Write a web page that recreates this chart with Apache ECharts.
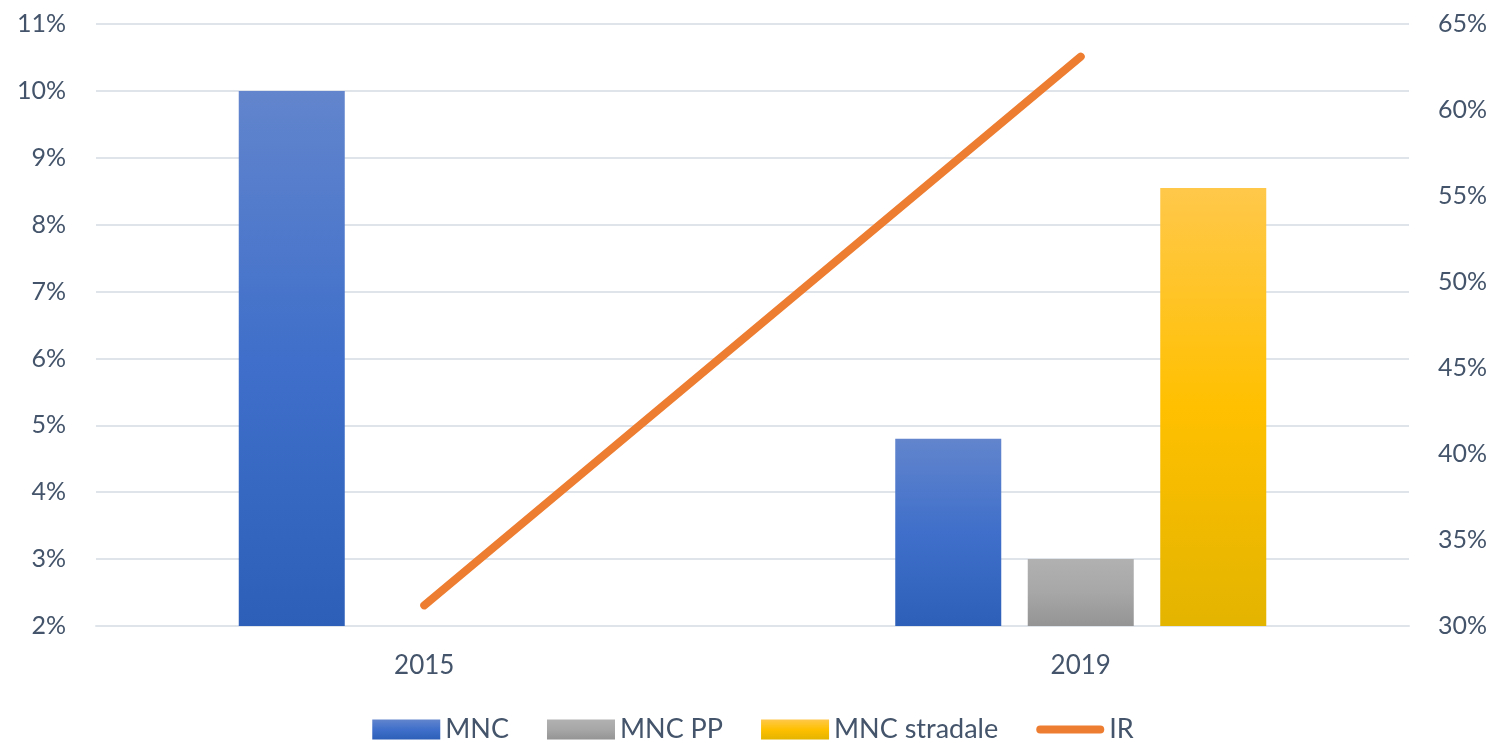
<!DOCTYPE html>
<html>
<head>
<meta charset="utf-8">
<script src="https://cdn.jsdelivr.net/npm/echarts@6/dist/echarts.min.js"></script>
<style>
    html, body { margin: 0; padding: 0; background: #fff; }
    #chart { width: 1506px; height: 743px; }
</style>
</head>
<body>
<div id="chart"></div>
<script>
var categories = ['2015', '2019'];
var mnc = [10.0, 4.8];
var mncPP = [null, 3.0];
var mncStradale = [null, 8.55];
var ir = [31.2, 63.1];

var textColor = '#44546a';
var fontFamily = 'Lato, "Open Sans", sans-serif';

function grad(top, mid, bottom) {
    return new echarts.graphic.LinearGradient(0, 0, 0, 1, [
        { offset: 0, color: top },
        { offset: 0.5, color: mid },
        { offset: 1, color: bottom }
    ]);
}

var chart = echarts.init(document.getElementById('chart'));
chart.setOption({
    animation: false,
    textStyle: { fontFamily: fontFamily },
    grid: { left: 96, right: 97, top: 24, bottom: 117, containLabel: false },
    legend: {
        bottom: -5,
        left: 'center',
        itemWidth: 68,
        itemHeight: 20,
        itemGap: 38,
        textStyle: { color: textColor, fontSize: 27, fontFamily: fontFamily },
        data: [
            { name: 'MNC', icon: 'rect' },
            { name: 'MNC PP', icon: 'rect' },
            { name: 'MNC stradale', icon: 'rect' },
            {
                name: 'IR',
                icon: 'path://M0 0 M68 20 M4 6 L64 6 Q68 6 68 10 Q68 14 64 14 L4 14 Q0 14 0 10 Q0 6 4 6 Z',
                itemStyle: { color: '#ed7d31' }
            }
        ]
    },
    xAxis: {
        type: 'category',
        data: categories,
        boundaryGap: true,
        axisLine: { show: true, lineStyle: { color: '#dfe3ea', width: 2 } },
        axisTick: { show: false },
        axisLabel: { color: textColor, fontSize: 26, margin: 27 }
    },
    yAxis: [
        {
            type: 'value',
            min: 2,
            max: 11,
            interval: 1,
            axisLine: { show: false },
            axisTick: { show: false },
            splitLine: { lineStyle: { color: '#dfe3ea', width: 2 } },
            axisLabel: { color: textColor, fontSize: 25, margin: 30, formatter: '{value}%' }
        },
        {
            type: 'value',
            min: 30,
            max: 65,
            interval: 5,
            axisLine: { show: false },
            axisTick: { show: false },
            splitLine: { show: false },
            axisLabel: { color: textColor, fontSize: 25, margin: 29, formatter: '{value}%' }
        }
    ],
    series: [
        {
            name: 'MNC',
            type: 'bar',
            data: mnc,
            barWidth: 106,
            barGap: '25%',
            itemStyle: { color: grad('#6285cd', '#3f6fca', '#2d5fb8') }
        },
        {
            name: 'MNC PP',
            type: 'bar',
            data: mncPP,
            barWidth: 106,
            barGap: '25%',
            itemStyle: { color: grad('#b1b1b1', '#a7a7a7', '#949494') }
        },
        {
            name: 'MNC stradale',
            type: 'bar',
            data: mncStradale,
            barWidth: 106,
            barGap: '25%',
            itemStyle: { color: grad('#ffc84a', '#ffc000', '#e3b400') }
        },
        {
            name: 'IR',
            type: 'line',
            yAxisIndex: 1,
            data: ir,
            symbol: 'none',
            lineStyle: { color: '#ed7d31', width: 8, cap: 'round' },
            itemStyle: { color: '#ed7d31' }
        }
    ]
});
</script>
</body>
</html>
